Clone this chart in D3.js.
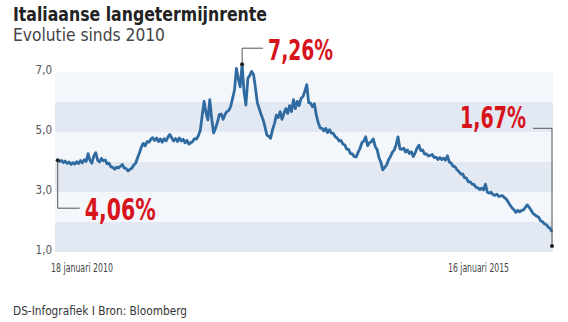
<!DOCTYPE html>
<html><head><meta charset="utf-8">
<script src="https://cdn.jsdelivr.net/npm/d3@7"></script>
<style>
html,body{margin:0;padding:0;background:#fff;}
svg{display:block;}
text{font-family:"Liberation Sans Narrow","DejaVu Sans Condensed","Arial Narrow",sans-serif;}
</style></head>
<body>
<script>
const title = "Italiaanse langetermijnrente";
const subtitle = "Evolutie sinds 2010";
const source = "DS-Infografiek I Bron: Bloomberg";
const startDate = "2010-01-18";
const endDate = "2015-01-16";
const xLabels = ["18 januari 2010", "16 januari 2015"];
const yTicks = [1, 3, 5, 7];
const yTickLabels = ["1,0", "3,0", "5,0", "7,0"];
const bandEdges = [1, 2, 3, 4, 5, 6];
// weekly Italian 10-year yield (%)
const values = [
4.06,4.02,4.05,3.98,4.03,3.95,4.00,3.92,3.98,3.93,
4.01,3.95,4.05,3.97,4.08,4.02,4.28,4.05,3.96,4.20,
4.31,4.06,4.00,4.12,4.04,4.07,3.94,3.96,3.84,3.82,
3.76,3.83,3.80,3.86,3.92,3.80,3.78,3.70,3.76,3.79,
3.90,3.96,4.14,4.30,4.50,4.62,4.54,4.68,4.66,4.76,
4.81,4.72,4.80,4.68,4.77,4.66,4.78,4.70,4.83,4.92,
4.80,4.70,4.78,4.68,4.80,4.70,4.76,4.64,4.72,4.60,
4.64,4.68,4.78,4.76,4.88,5.05,5.55,6.02,5.65,5.40,
6.08,5.45,4.97,5.12,5.32,5.58,5.60,5.42,5.58,5.68,
5.72,5.85,6.12,6.40,7.12,6.78,6.50,7.26,6.35,5.90,
6.78,6.88,7.02,6.92,6.48,5.98,5.78,5.58,5.42,5.18,
4.90,4.86,4.79,5.08,5.28,5.56,5.48,5.68,5.42,5.62,
5.78,5.62,5.88,5.68,6.08,5.78,6.02,5.88,6.12,6.18,
6.36,6.58,5.98,5.96,5.84,5.94,5.58,5.32,5.14,5.12,
5.04,5.12,4.98,5.08,4.96,4.95,4.84,4.80,4.70,4.72,
4.60,4.57,4.43,4.42,4.28,4.27,4.18,4.17,4.32,4.45,
4.64,4.70,4.84,4.54,4.64,4.68,4.77,4.52,4.42,4.14,
3.99,3.74,3.82,3.90,4.07,4.18,4.32,4.40,4.57,4.84,
4.44,4.42,4.46,4.33,4.40,4.28,4.34,4.18,4.30,4.46,
4.56,4.38,4.40,4.26,4.27,4.20,4.22,4.25,4.15,4.16,
4.08,4.15,4.08,4.13,4.06,4.21,4.00,3.96,3.86,3.84,
3.74,3.68,3.60,3.60,3.48,3.46,3.34,3.34,3.26,3.25,
3.16,3.14,3.08,3.13,3.07,3.26,2.99,2.96,2.99,2.91,
2.89,2.93,2.85,2.87,2.88,2.81,2.76,2.66,2.56,2.47,
2.41,2.32,2.39,2.34,2.39,2.40,2.49,2.57,2.49,2.39,
2.29,2.24,2.19,2.16,2.04,2.01,1.94,1.91,1.83,1.79,
1.67
];
const annotations = [
  {index: 0, label: "4,06%"},
  {index: 97, label: "7,26%"},
  {index: 260, label: "1,67%"}
];

const W = 568, H = 322;
const svg = d3.select("body").append("svg").attr("width", W).attr("height", H);

const t0 = new Date(startDate + "T00:00:00"), t1 = new Date(endDate + "T00:00:00");
const n = values.length;
const dates = values.map((v, i) => new Date(+t0 + (t1 - t0) * i / (n - 1)));
const data = values.map((v, i) => ({date: dates[i], value: v}));

const x = d3.scaleTime().domain([t0, t1]).range([57.7, 552]);
const y = d3.scaleLinear().domain([1, 7]).range([252, 72]);

// bands
svg.append("g").selectAll("rect").data(bandEdges).join("rect")
  .attr("x", 55).attr("width", 498)
  .attr("y", d => y(d + 1)).attr("height", d => y(d) - y(d + 1))
  .attr("fill", d => (d % 2 === 0) ? "#f3f6fa" : "#e3e9f2");

// y labels
svg.append("g").selectAll("text").data(yTicks).join("text")
  .attr("x", 52).attr("y", d => y(d) - 2.5)
  .attr("text-anchor", "end").attr("dominant-baseline", "central")
  .attr("font-size", 11.5).attr("fill", "#555")
  .text((d, i) => yTickLabels[i]);

// line
const line = d3.line().x(d => x(d.date)).y(d => y(d.value));
svg.append("path").datum(data).attr("d", line)
  .attr("fill", "none").attr("stroke", "#2f6aa0").attr("stroke-width", 2.8)
  .attr("stroke-linejoin", "round");

// annotations
const red = "#d7141c";
const lead = svg.append("g").attr("fill", "none").attr("stroke", "#555").attr("stroke-width", 1);
// 4,06%
{
  const d = data[annotations[0].index];
  const px = x(d.date), py = y(d.value);
  lead.append("path").attr("d", `M${px},${py}V${py + 48}H${px + 22}`);
  svg.append("circle").attr("cx", px).attr("cy", py).attr("r", 2).attr("fill", "#222");
  svg.append("text").attr("x", px + 27).attr("y", py + 60).attr("font-size", 31).attr("font-weight", "bold")
    .attr("fill", red).attr("textLength", 71).attr("lengthAdjust", "spacingAndGlyphs").text(annotations[0].label);
}
// 7,26%
{
  const d = data[annotations[1].index];
  const px = x(d.date), py = y(d.value);
  lead.append("path").attr("d", `M${px},${py}V${py - 16}H${px + 21}`);
  svg.append("circle").attr("cx", px).attr("cy", py).attr("r", 2).attr("fill", "#222");
  svg.append("text").attr("x", px + 26).attr("y", py - 4).attr("font-size", 28).attr("font-weight", "bold")
    .attr("fill", red).attr("textLength", 65).attr("lengthAdjust", "spacingAndGlyphs").text(annotations[1].label);
}
// 1,67%
{
  const d = data[annotations[2].index];
  const px = x(d.date);
  const ly = 128.3, dotY = 246;
  lead.append("path").attr("d", `M${px - 19},${ly}H${px}V${dotY}`);
  svg.append("circle").attr("cx", px).attr("cy", dotY).attr("r", 2).attr("fill", "#222");
  svg.append("text").attr("x", px - 26).attr("y", ly).attr("text-anchor", "end").attr("font-size", 31).attr("font-weight", "bold")
    .attr("fill", red).attr("textLength", 66).attr("lengthAdjust", "spacingAndGlyphs").text(annotations[2].label);
}

// x labels
svg.append("text").attr("x", 51).attr("y", 272).attr("font-size", 12.5).attr("fill", "#444")
  .attr("textLength", 62).attr("lengthAdjust", "spacingAndGlyphs").text(xLabels[0]);
svg.append("text").attr("x", 509).attr("y", 272).attr("text-anchor", "end").attr("font-size", 12.5).attr("fill", "#444")
  .attr("textLength", 61).attr("lengthAdjust", "spacingAndGlyphs").text(xLabels[1]);

// title, subtitle, source
svg.append("text").attr("x", 13).attr("y", 20.5).attr("font-size", 20).attr("font-weight", "bold").attr("fill", "#222")
  .attr("textLength", 254).attr("lengthAdjust", "spacingAndGlyphs").text(title);
svg.append("text").attr("x", 13).attr("y", 41).attr("font-size", 18).attr("fill", "#444")
  .attr("textLength", 152).attr("lengthAdjust", "spacingAndGlyphs").text(subtitle);
svg.append("text").attr("x", 13).attr("y", 315).attr("font-size", 13).attr("fill", "#333")
  .attr("textLength", 174).attr("lengthAdjust", "spacingAndGlyphs").text(source);
</script>
</body></html>
